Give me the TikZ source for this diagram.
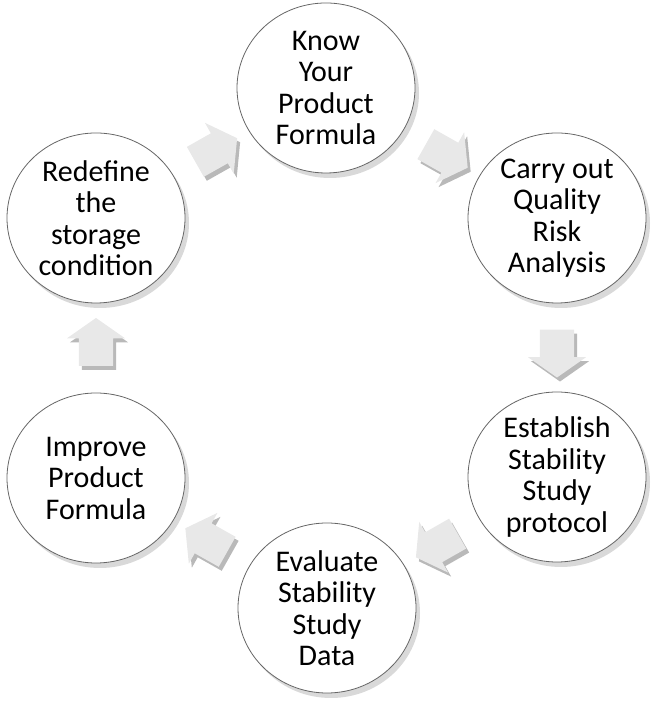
\documentclass[tikz,border=0pt]{standalone}
\usepackage{fontspec}
\setmainfont{Carlito}
\usetikzlibrary{shapes.geometric,shapes.arrows,shadows}
\begin{document}
\begin{tikzpicture}[x=1pt, y=1pt,
  stage/.style={ellipse, draw=black!60, line width=.8pt, fill=white,
    minimum width=178pt, minimum height=170pt, inner sep=-20pt,
    align=center, font=\fontsize{30}{31.5}\selectfont,
    drop shadow={shadow xshift=4pt, shadow yshift=-5pt, opacity=.3}},
  flow/.style={single arrow, sloped, allow upside down, draw=none,
    fill=gray!18, inner xsep=0pt, inner ysep=17pt,
    minimum height=48pt, single arrow head extend=12pt,
    single arrow tip angle=110,
    copy shadow={shadow xshift=3pt, shadow yshift=-4pt, fill=gray!55, draw=none}}]
  \useasboundingbox (0,0) rectangle (661,711);
  \coordinate (K) at (326,623); \coordinate (Q) at (557,493);
  \coordinate (S) at (557,234); \coordinate (E) at (327,103);
  \coordinate (I) at (96,233);  \coordinate (R) at (96,493);
  \node[stage] (know) at (K) {Know\\Your\\Product\\Formula};
  \node[stage] (risk) at (Q) {Carry out\\Quality\\Risk\\Analysis};
  \node[stage] (protocol) at (S) {Establish\\Stability\\Study\\protocol};
  \node[stage] (data) at (E) {Evaluate\\Stability\\Study\\Data};
  \node[stage] (improve) at (I) {Improve\\Product\\Formula};
  \node[stage] (redefine) at (R) {Redefine\\the\\storage\\condition};
  \path (redefine) -- node[flow] (f1) {} (know);
  \path (know) -- node[flow] (f2) {} (risk);
  \path (risk) -- node[flow] (f3) {} (protocol);
  \path (protocol) -- node[flow] (f4) {} (data);
  \path (data) -- node[flow] (f5) {} (improve);
  \path (improve) -- node[flow] (f6) {} (redefine);
\end{tikzpicture}
\end{document}
